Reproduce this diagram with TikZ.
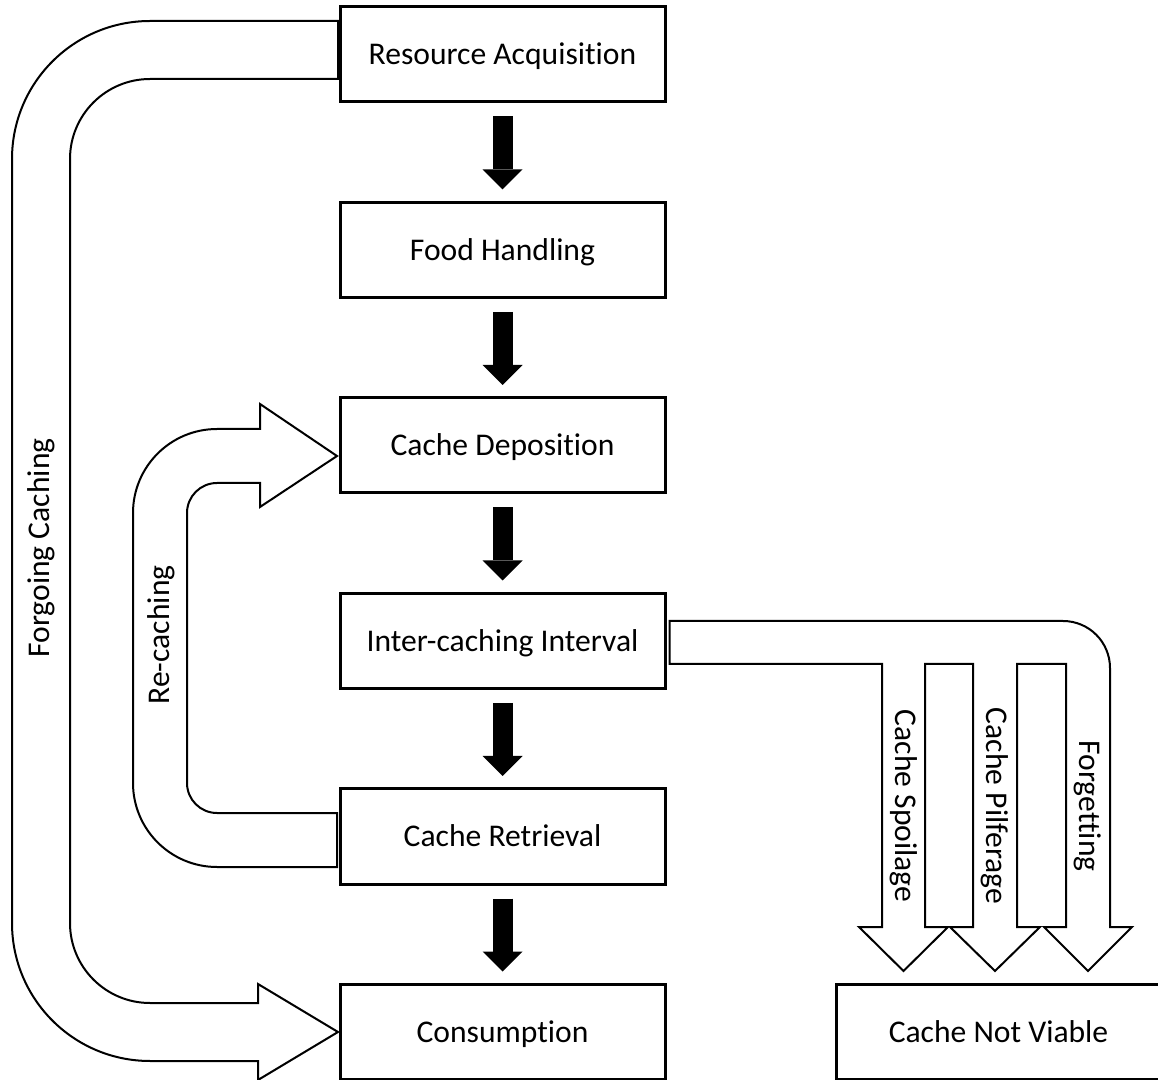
\documentclass[tikz,border=0pt]{standalone}
\usepackage{fontspec}
\setmainfont{Carlito}[Ligatures=NoCommon]
\usepackage{tikz}
\usetikzlibrary{positioning, arrows.meta, calc}
\tikzset{
        stage/.style={draw, line width=1.5pt, fill=white, minimum width=162.5pt, minimum height=47.5pt, inner sep=0pt, text height=10.2pt, text depth=0pt}, % the boxes of the sequence
        flow/.style={line width=10pt, -{Triangle[width=20pt, length=10pt, line width=0pt]}, shorten <=6.5pt, shorten >=5.75pt}, % the black arrows between boxes
        hollow/.style={draw, fill=white, line width=1pt, line join=miter}, % outlined block arrows
        every node/.style={font=\fontsize{15.8}{19}\selectfont}, % sets the text size
    }

\begin{document}
\begin{tikzpicture}[x=0.5pt, y=0.5pt, node distance=97.75pt]
    \useasboundingbox (0,0) rectangle (1158,-1080);
    \node[stage] (res) at (502.5,-54.5) {Resource Acquisition};
    \node[stage, below of=res] (food) {Food Handling};
    \node[stage, below of=food] (dep) {Cache Deposition};
    \node[stage, below of=dep] (int) {Inter-caching Interval};
    \node[stage, below of=int] (ret) {Cache Retrieval};
    \node[stage, below of=ret] (cons) {Consumption};
    \node[stage, right=84pt of cons] (dead) {Cache Not Viable};
    \draw[flow]
      (res) edge (food)
      (food) edge (dep)
      (dep) edge (int)
      (int) edge (ret)
      (ret) edge (cons);
    % forgoing caching
    \draw[hollow] ($(res.west)+(-0.5,33.5)$) -- ++(-188,0) arc[start angle=90, end angle=180, radius=138]
      -- ++(0,-764) arc[start angle=180, end angle=270, radius=138] -- ++(108,0) -- ++(0,-19)
      -- ($(cons.west)+(-0.5,0)$) -- ++(-80,48) -- ++(0,-19) -- ++(-108,0)
      arc[start angle=270, end angle=180, radius=80] -- ++(0,764)
      arc[start angle=180, end angle=90, radius=80] -- ++(188,0) -- cycle;
    % re-caching
    \draw[hollow] ($(ret.west)+(-1.5,23.5)$) -- ++(-120,0) arc[start angle=270, end angle=180, radius=30]
      -- ++(0,270) arc[start angle=180, end angle=90, radius=30] -- ++(43,0) -- ++(0,-24)
      -- ($(dep.west)+(-1.5,-10.5)$) -- ++(-77,52) -- ++(0,-25) -- ++(-43,0)
      arc[start angle=90, end angle=180, radius=84] -- ++(0,-270)
      arc[start angle=180, end angle=270, radius=84] -- ++(120,0) -- cycle;
    % losses of the cache
    \draw[hollow] ($(int.east)+(3,20)$) -- ++(393.5,0) arc[start angle=90, end angle=0, radius=47]
      -- ++(0,-259) -- ++(22,0) -- ++(-44,-44) -- ++(-44,44) -- ++(22,0) -- ++(0,263)
      -- ++(-49,0) -- ++(0,-263) -- ++(23,0) -- ++(-45,-44) -- ++(-45,44) -- ++(23,0) -- ++(0,263)
      -- ++(-48,0) -- ++(0,-263) -- ++(23,0) -- ++(-44.5,-44) -- ++(-44.5,44) -- ++(23,0) -- ++(0,263)
      -- ++(-212.5,0) -- cycle;
    \node[rotate=90] (forgo) at (41,-548) {Forgoing Caching};
    \node[rotate=90] (recache) at (161,-635) {Re-caching};
    \node[rotate=-90] (spoil) at (903.5,-806) {Cache Spoilage};
    \node[rotate=-90] (pilfer) at (995,-806) {Cache Pilferage};
    \node[rotate=-90] (forget) at (1088,-806) {Forgetting};
\end{tikzpicture}
\end{document}
